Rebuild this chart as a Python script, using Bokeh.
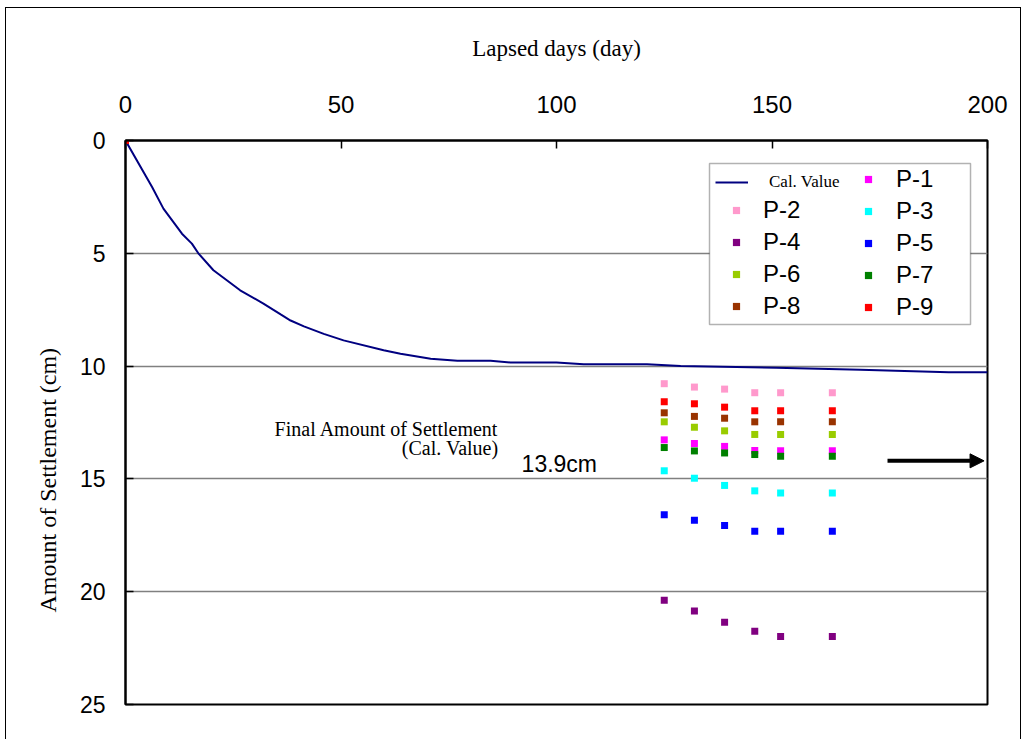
from bokeh.plotting import figure
from bokeh.models import (Range1d, FixedTicker, Legend, LegendItem, Label, Title,
                          BoxAnnotation, Arrow, NormalHead, InlineStyleSheet)
from bokeh.embed import file_html
from bokeh.resources import INLINE

# ---------------- data ----------------
x_ticks = [0, 50, 100, 150, 200]
y_ticks = [0, 5, 10, 15, 20, 25]

cal_days = [0, 6.2, 8.8, 13.1, 15.4, 16.9, 20.4, 26.6, 32, 36, 38.3, 41.4, 46,
            50.6, 59.9, 63.8, 70.8, 77, 84.7, 89.3, 100, 106.3, 121, 128.8,
            151, 170.5, 191, 200]
cal_values = [0, 2.07, 3.02, 4.13, 4.57, 5.0, 5.75, 6.64, 7.23, 7.71, 7.98, 8.24,
              8.57, 8.86, 9.30, 9.45, 9.67, 9.76, 9.76, 9.84, 9.84, 9.92, 9.92,
              10.0, 10.07, 10.16, 10.27, 10.27]

meas_days = [0, 125, 132, 139, 146, 152, 164]
p1 = [0, 13.27, 13.43, 13.56, 13.74, 13.75, 13.75]
p2 = [0, 10.78, 10.93, 11.02, 11.18, 11.18, 11.18]
p3 = [0, 14.64, 14.97, 15.29, 15.53, 15.62, 15.62]
p4 = [0, 20.38, 20.86, 21.35, 21.75, 21.99, 21.99]
p5 = [0, 16.59, 16.83, 17.07, 17.32, 17.32, 17.32]
p6 = [0, 12.47, 12.71, 12.87, 13.03, 13.03, 13.03]
p7 = [0, 13.61, 13.76, 13.85, 13.92, 14.00, 14.00]
p8 = [0, 12.07, 12.23, 12.31, 12.47, 12.47, 12.47]
p9 = [0, 11.58, 11.67, 11.82, 11.98, 11.98, 11.98]

series_names = ["P-1", "P-2", "P-3", "P-4", "P-5", "P-6", "P-7", "P-8", "P-9"]
series_values = [p1, p2, p3, p4, p5, p6, p7, p8, p9]
series_colors = ["#FF00FF", "#FF99CC", "#00FFFF", "#800080", "#0000FF",
                 "#99CC00", "#008000", "#993300", "#FF0000"]

x_title = "Lapsed days (day)"
y_title = "Amount of Settlement (cm)"
final_settlement_text = "13.9cm"

# ---------------- figure ----------------
p = figure(width=1024, height=739,
           x_range=Range1d(0, 200), y_range=Range1d(25, 0),
           x_axis_location="above",
           output_backend="svg", toolbar_location=None,
           min_border_left=125, min_border_right=37,
           min_border_top=140, min_border_bottom=35,
           background_fill_color="white", border_fill_color="white")

# outer chart border (left / top / right edges of the chart area)
p.stylesheets = [InlineStyleSheet(css=(
    ":host::after { content: ''; position: absolute; left: 5px; top: 7px; "
    "right: 3px; bottom: 0px; border-left: 1.5px solid black; "
    "border-top: 1.5px solid black; border-right: 1.5px solid black; "
    "pointer-events: none; z-index: 100; }"))]

p.xaxis.ticker = FixedTicker(ticks=x_ticks)
p.yaxis.ticker = FixedTicker(ticks=y_ticks)
for ax in (p.xaxis[0], p.yaxis[0]):
    ax.axis_line_color = "black"
    ax.axis_line_width = 2
    ax.major_tick_in = 8
    ax.major_tick_out = 0
    ax.major_tick_line_color = "black"
    ax.major_tick_line_width = 1.5
    ax.minor_tick_line_color = None
    ax.major_label_text_font = "Liberation Sans"
    ax.major_label_text_color = "black"
p.xaxis.major_label_text_font_size = "24px"
p.xaxis.major_label_standoff = 28
p.yaxis.major_label_text_font_size = "23px"
p.yaxis.major_label_standoff = 20

p.xaxis.axis_label = x_title
p.xaxis.axis_label_text_font = "Liberation Serif"
p.xaxis.axis_label_text_font_size = "23px"
p.xaxis.axis_label_text_font_style = "normal"
p.xaxis.axis_label_text_color = "black"
p.xaxis.axis_label_standoff = 32

p.add_layout(Title(text=y_title, align="left", offset=92, standoff=27,
                   vertical_align="top",
                   text_font="Liberation Serif", text_font_size="24px",
                   text_font_style="normal", text_color="black"), "left")

p.xgrid.visible = False
p.ygrid.grid_line_color = "#808080"
p.ygrid.grid_line_width = 1.5
p.outline_line_color = "black"
p.outline_line_width = 2
p.outline_line_alpha = 1

cal_r = p.line(cal_days, cal_values, line_color="#000080", line_width=2)
sc_r = []
for name, vals, col in zip(series_names, series_values, series_colors):
    r = p.scatter(meas_days, vals, marker="square", size=7,
                  fill_color=col, line_color=None)
    sc_r.append(r)

# ---------------- annotations ----------------
# legend box
p.add_layout(BoxAnnotation(left=135.5, right=196.06, top=1.02, bottom=8.16,
                           fill_color="white", fill_alpha=1,
                           line_color="black", line_width=1.5))

common = dict(padding=0, margin=0, spacing=0, border_line_color=None,
              background_fill_alpha=0, label_height=32, glyph_height=18,
              label_text_color="black")

leg0 = Legend(items=[LegendItem(label="Cal. Value", renderers=[cal_r])],
              location=(590, 506), glyph_width=33, label_standoff=21,
              label_text_font="Liberation Serif", label_text_font_size="17px",
              **common)
leg1 = Legend(items=[LegendItem(label=series_names[i], renderers=[sc_r[i]])
                     for i in (1, 3, 5, 7)],
              location=(602, 382), glyph_width=18, label_standoff=18,
              label_text_font="Liberation Sans", label_text_font_size="24px",
              **common)
leg2 = Legend(items=[LegendItem(label=series_names[i], renderers=[sc_r[i]])
                     for i in (0, 2, 4, 6, 8)],
              location=(734, 381), glyph_width=18, label_standoff=19,
              label_text_font="Liberation Sans", label_text_font_size="24px",
              **common)
for lg in (leg0, leg1, leg2):
    p.add_layout(lg)

# final settlement note
p.add_layout(Label(x=86.54, y=12.77, text="Final Amount of Settlement",
                   text_font="Liberation Serif", text_font_size="20px",
                   text_color="black", text_align="right",
                   text_baseline="alphabetic"))
p.add_layout(Label(x=86.54, y=13.65, text="(Cal. Value)",
                   text_font="Liberation Serif", text_font_size="20px",
                   text_color="black", text_align="right",
                   text_baseline="alphabetic"))
p.add_layout(Label(x=91.9, y=14.32, text=final_settlement_text,
                   text_font="Liberation Sans", text_font_size="23px",
                   text_color="black", text_align="left",
                   text_baseline="alphabetic"))
p.add_layout(Arrow(x_start=176.8, y_start=14.2, x_end=199.2, y_end=14.2,
                   line_width=4, line_color="black",
                   end=NormalHead(size=14, fill_color="black",
                                  line_color="black")))

open("out.html", "w").write(file_html(p, INLINE))
